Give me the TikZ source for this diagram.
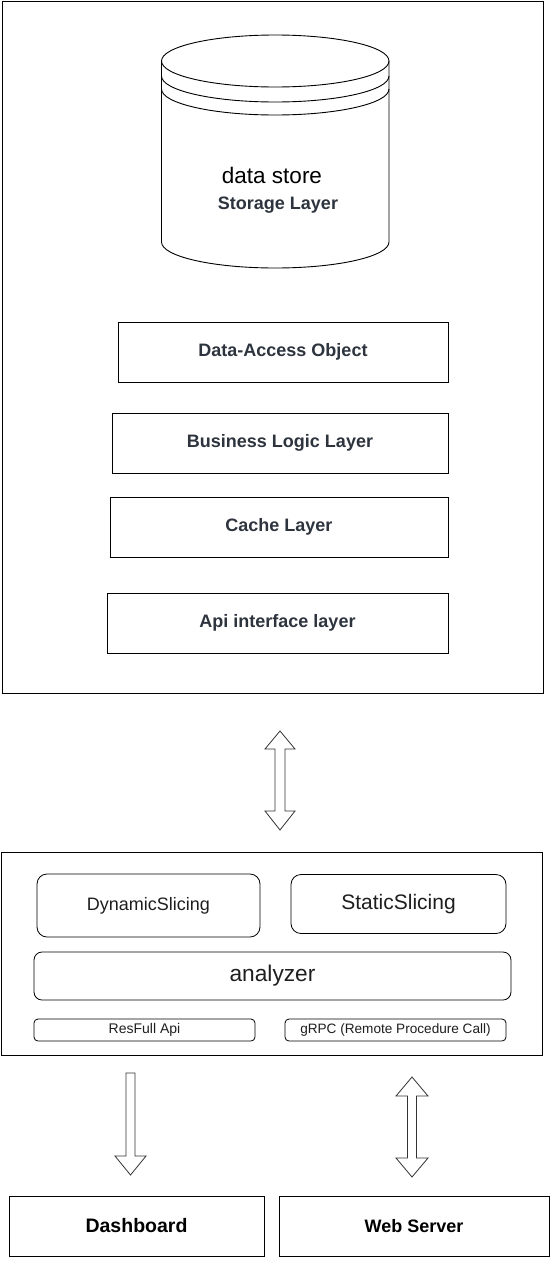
\documentclass[tikz,border=0pt]{standalone}
\usepackage{fontspec}
\setmainfont{Liberation Sans}
\definecolor{slate}{RGB}{45,52,62}
\definecolor{txt}{RGB}{30,30,30}
\begin{document}
\begin{tikzpicture}[x=1pt,y=-1pt,
  frame/.style={draw=black,line width=0.9pt,inner sep=0pt},
  layerbox/.style={draw=black,line width=0.9pt,inner sep=0pt,minimum height=60pt,text=slate,font=\fontsize{18}{21}\selectfont\bfseries},
  rbox/.style={draw=black,line width=0.8pt,inner sep=0pt,text=txt},
  endbox/.style={draw=black,line width=0.9pt,inner sep=0pt,minimum width=255pt,minimum height=60pt,text=black},
  blockarrow/.style={draw=black!80,line width=0.8pt,fill=white,line join=miter}]
\useasboundingbox (0,0) rectangle (553,1280);
% outer frames
\node[frame,minimum width=541pt,minimum height=692pt] (top) at (272.5,347) {};
\node[frame,minimum width=541pt,minimum height=203pt] (bot) at (271.5,953.5) {};
% cylinder
\draw[line width=0.9pt,fill=white] (161.5,61) -- (161.5,242) arc[start angle=180,end angle=360,x radius=113.75pt,y radius=26pt] -- (389,61);
\draw[line width=0.9pt] (275.25,61) ellipse[x radius=113.75pt,y radius=26pt];
\draw[line width=0.9pt] (161.5,76) arc[start angle=180,end angle=360,x radius=113.75pt,y radius=26pt];
\draw[line width=0.9pt] (161.5,89) arc[start angle=180,end angle=360,x radius=113.75pt,y radius=26pt];
\node[inner sep=0pt,font=\fontsize{22.5}{26}\selectfont] (ds) at (272,175) {data store};
\node[inner sep=0pt,text=slate,font=\fontsize{18}{21}\selectfont\bfseries] (sl) at (278,205) {Storage Layer};
% layers
\node[layerbox,minimum width=330pt] (dao) at (283,352) {Data-Access Object};
\node[layerbox,minimum width=336pt] (bll) at (280,443) {Business Logic Layer};
\node[layerbox,minimum width=338pt] (cache) at (279,527) {Cache Layer};
\node[layerbox,minimum width=341pt] (api) at (277.5,623) {Api interface layer};
% analyzer box
\node[rbox,rounded corners=10pt,minimum width=223pt,minimum height=63pt,font=\fontsize{18}{21}\selectfont] (dyn) at (148.5,905.5) {DynamicSlicing};
\node[rbox,rounded corners=10pt,minimum width=215pt,minimum height=59pt,font=\fontsize{21}{24}\selectfont] (stat) at (398.5,904) {StaticSlicing};
\node[rbox,rounded corners=8pt,minimum width=477pt,minimum height=48pt,font=\fontsize{22.7}{26}\selectfont] (ana) at (272.5,976) {analyzer};
\node[rbox,rounded corners=4pt,minimum width=221pt,minimum height=22pt,font=\fontsize{14}{16}\selectfont] (rest) at (144.5,1030) {ResFull Api};
\node[rbox,rounded corners=4pt,minimum width=221pt,minimum height=22pt,font=\fontsize{13.6}{16}\selectfont] (grpc) at (395.5,1030) {gRPC (Remote Procedure Call)};
% end boxes
\node[endbox,font=\fontsize{19.5}{22}\selectfont\bfseries] (dash) at (136.5,1226) {Dashboard};
\node[endbox,minimum width=270pt,font=\fontsize{18}{21}\selectfont\bfseries] (web) at (414,1226) {Web Server};
% block arrows
\coordinate (a1) at (280,731);
\draw[blockarrow] (a1) -- ++(15,18) -- ++(-10,0) -- ++(0,62) -- ++(10,0) -- ++(-15,19) -- ++(-15,-19) -- ++(10,0) -- ++(0,-62) -- ++(-10,0) -- cycle;
\coordinate (a2) at (130.5,1073);
\draw[blockarrow] (a2) ++(-4.5,0) -- ++(9,0) -- ++(0,83) -- ++(11,0) -- ++(-15.5,19) -- ++(-15.5,-19) -- ++(11,0) -- cycle;
\coordinate (a3) at (412,1077);
\draw[blockarrow] (a3) -- ++(16,19) -- ++(-11.5,0) -- ++(0,62) -- ++(11.5,0) -- ++(-16,19) -- ++(-16,-19) -- ++(11.5,0) -- ++(0,-62) -- ++(-11.5,0) -- cycle;
\end{tikzpicture}
\end{document}
